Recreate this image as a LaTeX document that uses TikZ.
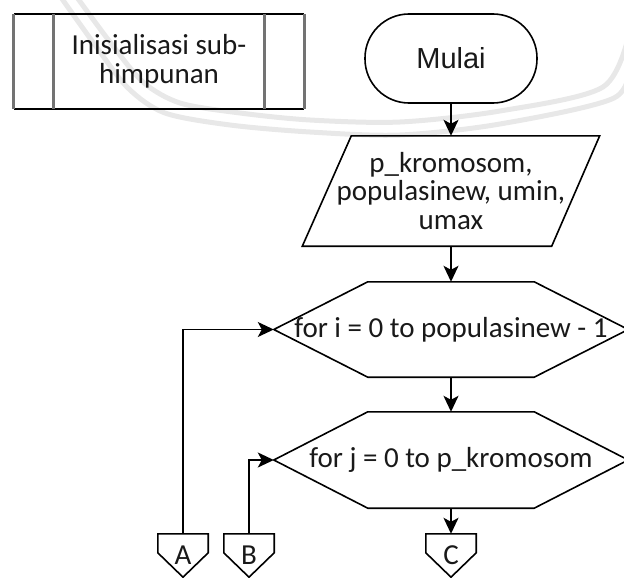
\documentclass[tikz,border=0pt]{standalone}
\usepackage{fontspec}
\setmainfont{Carlito}
\newfontfamily\arialfont{Liberation Sans}
\usetikzlibrary{arrows.meta,calc}

\begin{document}
\begin{tikzpicture}[x=1pt,y=-1pt,
  lbl/.style={font=\fontsize{29}{29}\selectfont, align=center, inner sep=0pt, text=black!90},
  outline/.style={draw=black, line width=1.6pt, line join=miter},
  sideline/.style={draw=black!55, line width=2.8pt},
  arr/.style={draw=black, line width=1.6pt, -{Stealth[length=16pt,width=15pt,inset=4pt]}},
  wmark/.style={draw=black!9, line width=5pt}
]
\useasboundingbox (0,0) rectangle (624,578);

% faint background band
\draw[wmark] plot[smooth, tension=0.5] coordinates {(60,-4) (95,45) (128,88) (165,113) (230,125) (310,132) (400,135) (500,124) (614,98) (630,60)};
\draw[wmark] plot[smooth, tension=0.5] coordinates {(76,-4) (110,42) (143,82) (180,103) (240,113) (310,120) (400,122) (500,111) (603,87) (630,30)};

% predefined process
\node[lbl, minimum width=290pt, minimum height=95pt] (sub) at (159,61.5) {Inisialisasi sub-\\himpunan};
\draw[outline] (sub.north west) -- (sub.north east) (sub.south west) -- (sub.south east);
\draw[sideline] (sub.north west) -- (sub.south west)
  (sub.north east) -- (sub.south east)
  ($(sub.north west)+(40,0)$) -- ($(sub.south west)+(40,0)$)
  ($(sub.north east)+(-40,0)$) -- ($(sub.south east)+(-40,0)$);

% start terminator
\node[lbl, font=\arialfont\fontsize{29}{29}\selectfont, outline, rounded corners=44pt,
      minimum width=172pt, minimum height=89pt] (mulai) at (451,58.5) {Mulai};

% input parallelogram
\node[lbl, font=\fontsize{29}{28.5}\selectfont, minimum width=297pt, minimum height=110pt] (inp) at (451,191)
  {p\_kromosom,\\populasinew, umin,\\umax};
\draw[outline] ($(inp.north west)+(49,0)$) -- (inp.north east) -- ($(inp.south east)+(-48,0)$) -- (inp.south west) -- cycle;

% loop hexagons
\node[lbl, minimum width=354pt, minimum height=95pt] (h1) at (451,329.5) {for i = 0 to populasinew - 1};
\draw[outline] (h1.west) -- ($(h1.north west)+(94,0)$) -- ($(h1.north east)+(-94,0)$) -- (h1.east)
  -- ($(h1.south east)+(-94,0)$) -- ($(h1.south west)+(94,0)$) -- cycle;

\node[lbl, minimum width=354pt, minimum height=96pt] (h2) at (451,460) {for j = 0 to p\_kromosom};
\draw[outline] (h2.west) -- ($(h2.north west)+(94,0)$) -- ($(h2.north east)+(-94,0)$) -- (h2.east)
  -- ($(h2.south east)+(-94,0)$) -- ($(h2.south west)+(94,0)$) -- cycle;

% off-page connectors
\foreach \nm/\cx in {A/183, B/249, C/451} {
  \node[lbl, minimum width=50pt, minimum height=43pt] (\nm) at (\cx,555.5) {\nm};
  \draw[outline] (\nm.north west) -- (\nm.north east) -- ($(\nm.north east)+(0,19)$)
    -- (\nm.south) -- ($(\nm.north west)+(0,19)$) -- cycle;
}

% flow
\draw[arr] (mulai) -- (inp);
\draw[arr] (inp) -- (h1);
\draw[arr] (h1) -- (h2);
\draw[arr] (h2) -- (C);
\draw[arr] (A.north) |- (h1.west);
\draw[arr] (B.north) |- (h2.west);
\end{tikzpicture}
\end{document}
